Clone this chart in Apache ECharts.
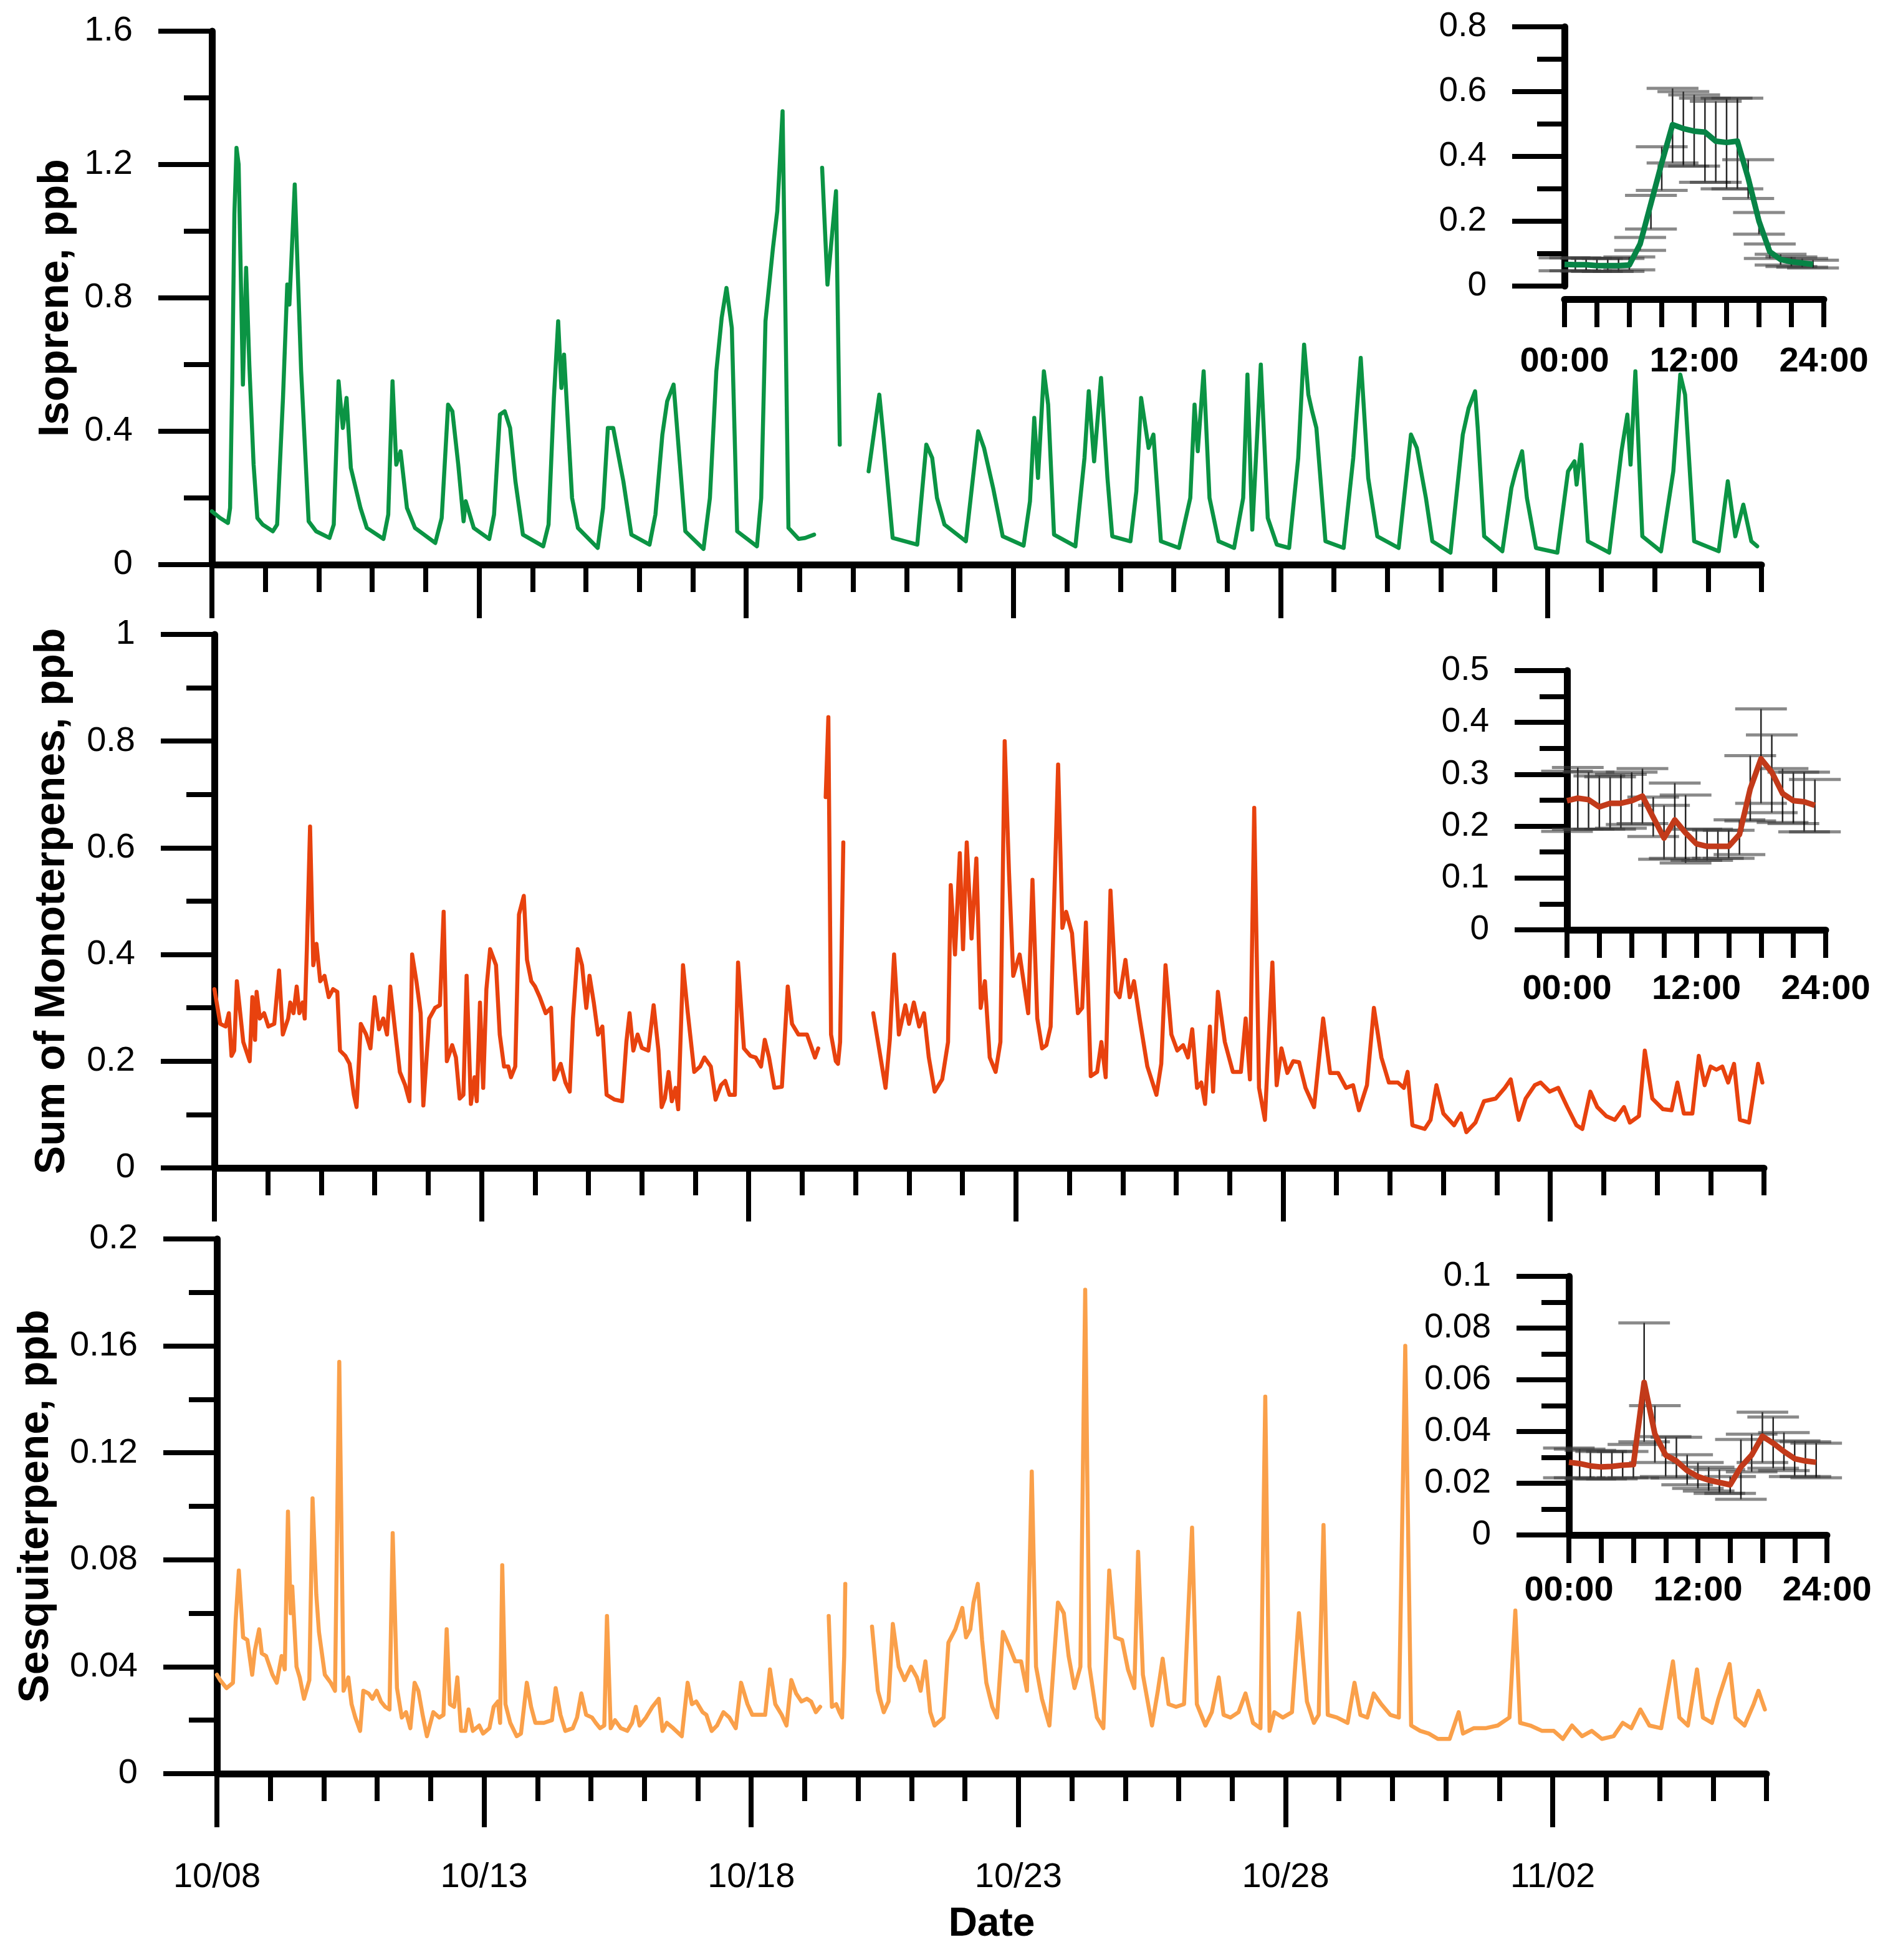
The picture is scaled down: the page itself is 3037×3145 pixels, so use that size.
<!DOCTYPE html>
<html>
<head>
<meta charset="utf-8">
<script src="https://cdn.jsdelivr.net/npm/echarts@6/dist/echarts.min.js"></script>
<style>
  html, body { margin: 0; padding: 0; background: #fff; }
  #chart { width: 3037px; height: 3145px; }
</style>
</head>
<body>
<div id="chart"></div>
<script>
// days after 10/08 00:00, value in ppb (null = gap in record)
const isoprene = [
  [0,0.16],[0.15,0.14],[0.3,0.125],[0.34,0.17],[0.38,0.55],[0.42,1.05],[0.46,1.25],[0.5,1.2],[0.58,0.54],[0.64,0.89],[0.7,0.6],[0.78,0.3],[0.85,0.14],[0.95,0.12],
  [1.14,0.10],[1.22,0.12],[1.33,0.50],[1.41,0.84],[1.45,0.78],[1.55,1.14],[1.67,0.58],[1.81,0.13],[1.95,0.10],
  [2.2,0.08],[2.28,0.12],[2.37,0.55],[2.45,0.41],[2.52,0.50],[2.6,0.29],[2.78,0.17],[2.9,0.11],
  [3.21,0.077],[3.3,0.15],[3.38,0.55],[3.45,0.30],[3.53,0.34],[3.65,0.17],[3.8,0.11],
  [4.18,0.065],[4.3,0.14],[4.42,0.48],[4.5,0.46],[4.61,0.30],[4.71,0.13],[4.75,0.19],[4.9,0.11],
  [5.19,0.077],[5.28,0.15],[5.39,0.45],[5.48,0.46],[5.58,0.41],[5.68,0.25],[5.82,0.09],
  [6.2,0.055],[6.3,0.12],[6.4,0.5],[6.48,0.73],[6.54,0.53],[6.59,0.63],[6.74,0.20],[6.85,0.11],
  [7.22,0.05],[7.32,0.17],[7.41,0.41],[7.51,0.41],[7.70,0.25],[7.85,0.09],
  [8.19,0.06],[8.3,0.15],[8.43,0.39],[8.52,0.49],[8.64,0.54],[8.76,0.30],[8.86,0.10],
  [9.2,0.047],[9.32,0.2],[9.44,0.58],[9.54,0.74],[9.63,0.83],[9.73,0.71],[9.83,0.10],
  [10.2,0.055],[10.28,0.2],[10.36,0.73],[10.5,0.95],[10.58,1.06],[10.68,1.36],[10.79,0.11],[10.98,0.077],[11.1,0.08],[11.27,0.09],
  [11.33,null],[11.42,1.19],[11.52,0.84],[11.68,1.12],[11.75,0.36],[11.8,null],
  [12.29,0.28],[12.49,0.51],[12.57,0.38],[12.74,0.08],[13.20,0.06],
  [13.37,0.36],[13.48,0.32],[13.57,0.20],[13.71,0.12],[14.11,0.07],
  [14.34,0.40],[14.45,0.35],[14.62,0.23],[14.80,0.085],[15.19,0.057],
  [15.31,0.19],[15.39,0.44],[15.46,0.26],[15.57,0.58],[15.65,0.48],[15.76,0.09],[16.16,0.055],
  [16.33,0.32],[16.41,0.52],[16.51,0.31],[16.64,0.56],[16.76,0.26],[16.85,0.085],[17.19,0.07],
  [17.30,0.22],[17.39,0.50],[17.53,0.35],[17.62,0.39],[17.76,0.07],[18.10,0.05],
  [18.31,0.20],[18.39,0.48],[18.45,0.34],[18.56,0.58],[18.67,0.20],[18.84,0.07],[19.13,0.05],
  [19.30,0.20],[19.38,0.57],[19.47,0.105],[19.63,0.60],[19.76,0.14],[19.93,0.06],[20.16,0.05],
  [20.33,0.32],[20.44,0.66],[20.52,0.51],[20.59,0.46],[20.67,0.41],[20.84,0.07],[21.18,0.05],
  [21.36,0.32],[21.50,0.62],[21.64,0.26],[21.81,0.085],[22.21,0.05],
  [22.44,0.39],[22.55,0.35],[22.72,0.20],[22.84,0.07],[23.18,0.036],
  [23.41,0.39],[23.52,0.47],[23.64,0.52],[23.69,0.41],[23.81,0.085],[24.15,0.04],
  [24.32,0.23],[24.40,0.28],[24.52,0.34],[24.61,0.20],[24.78,0.05],[25.18,0.036],
  [25.38,0.28],[25.50,0.31],[25.54,0.24],[25.63,0.36],[25.75,0.07],[26.15,0.036],
  [26.38,0.34],[26.49,0.45],[26.55,0.30],[26.64,0.58],[26.77,0.085],[27.12,0.04],
  [27.35,0.28],[27.48,0.57],[27.57,0.51],[27.74,0.07],[28.20,0.04],
  [28.37,0.25],[28.51,0.085],[28.66,0.18],[28.81,0.07],[28.92,0.055]
];

const monoterpenes = [
  [0,0.335],[0.11,0.27],[0.21,0.265],[0.27,0.29],[0.32,0.21],[0.37,0.22],[0.42,0.35],[0.54,0.236],[0.66,0.20],[0.71,0.32],[0.76,0.24],[0.79,0.33],[0.85,0.28],[0.93,0.29],
  [1.01,0.265],[1.12,0.27],[1.21,0.37],[1.28,0.25],[1.38,0.28],[1.42,0.31],[1.48,0.29],[1.54,0.34],[1.59,0.29],[1.65,0.31],[1.69,0.28],[1.73,0.41],[1.79,0.64],[1.85,0.38],[1.91,0.42],[1.98,0.35],
  [2.06,0.36],[2.14,0.32],[2.22,0.335],[2.3,0.33],[2.35,0.22],[2.45,0.21],[2.53,0.195],[2.61,0.137],[2.66,0.114],[2.74,0.27],[2.84,0.25],[2.92,0.224],
  [3.0,0.32],[3.08,0.26],[3.16,0.28],[3.23,0.25],[3.29,0.34],[3.39,0.25],[3.47,0.18],[3.57,0.155],[3.65,0.125],[3.70,0.40],[3.78,0.35],[3.86,0.29],[3.91,0.117],
  [4.02,0.28],[4.13,0.30],[4.22,0.305],[4.29,0.48],[4.35,0.20],[4.45,0.23],[4.52,0.207],[4.59,0.13],[4.66,0.137],[4.72,0.36],[4.80,0.12],[4.87,0.17],[4.91,0.125],[4.97,0.31],
  [5.03,0.15],[5.09,0.335],[5.16,0.41],[5.27,0.38],[5.34,0.25],[5.42,0.19],[5.5,0.19],[5.55,0.17],[5.63,0.19],[5.70,0.475],[5.79,0.51],[5.85,0.39],[5.93,0.35],
  [6.0,0.34],[6.09,0.32],[6.2,0.29],[6.3,0.30],[6.36,0.166],[6.48,0.195],[6.57,0.16],[6.65,0.143],[6.71,0.28],[6.80,0.41],[6.88,0.38],[6.96,0.30],
  [7.02,0.36],[7.10,0.31],[7.18,0.25],[7.26,0.265],[7.34,0.137],[7.49,0.128],[7.63,0.125],[7.71,0.236],[7.77,0.29],[7.84,0.22],[7.92,0.25],
  [8.0,0.225],[8.12,0.22],[8.22,0.305],[8.31,0.22],[8.37,0.114],[8.43,0.13],[8.5,0.18],[8.56,0.125],[8.63,0.15],[8.68,0.11],[8.77,0.38],[8.86,0.29],[8.98,0.18],
  [9.09,0.19],[9.17,0.207],[9.29,0.19],[9.38,0.128],[9.48,0.155],[9.56,0.163],[9.64,0.137],[9.74,0.137],[9.80,0.385],[9.91,0.224],
  [10.03,0.21],[10.13,0.207],[10.23,0.19],[10.3,0.24],[10.38,0.207],[10.48,0.15],[10.62,0.152],[10.73,0.34],[10.81,0.27],[10.93,0.25],
  [11.09,0.25],[11.16,0.23],[11.24,0.207],[11.30,0.224],
  [11.35,null],[11.44,0.695],[11.49,0.845],[11.54,0.25],[11.63,0.20],[11.67,0.195],[11.71,0.236],[11.77,0.61],[11.8,null],
  [12.33,0.29],[12.56,0.15],[12.64,0.24],[12.72,0.40],[12.81,0.25],[12.93,0.305],
  [13.0,0.27],[13.09,0.31],[13.19,0.265],[13.28,0.29],[13.37,0.207],[13.48,0.143],[13.62,0.166],[13.73,0.236],[13.78,0.53],[13.86,0.40],[13.95,0.59],
  [14.01,0.41],[14.08,0.61],[14.17,0.43],[14.26,0.58],[14.34,0.30],[14.42,0.35],[14.51,0.207],[14.62,0.18],[14.71,0.236],[14.79,0.80],[14.87,0.556],[14.95,0.36],
  [15.07,0.40],[15.23,0.29],[15.31,0.54],[15.4,0.28],[15.49,0.224],[15.57,0.23],[15.65,0.265],[15.71,0.48],[15.79,0.756],[15.87,0.45],[15.94,0.48],
  [16.05,0.44],[16.16,0.29],[16.24,0.30],[16.31,0.46],[16.40,0.172],[16.52,0.18],[16.60,0.236],[16.68,0.17],[16.77,0.52],[16.87,0.33],[16.94,0.32],
  [17.05,0.39],[17.13,0.32],[17.21,0.35],[17.32,0.277],[17.46,0.19],[17.63,0.137],[17.72,0.195],[17.8,0.38],[17.91,0.25],
  [18.02,0.22],[18.13,0.23],[18.22,0.207],[18.3,0.26],[18.39,0.15],[18.47,0.16],[18.54,0.12],[18.63,0.265],[18.69,0.143],[18.78,0.33],[18.91,0.236],
  [19.06,0.18],[19.21,0.18],[19.3,0.28],[19.38,0.166],[19.46,0.675],[19.55,0.15],[19.66,0.09],[19.8,0.385],[19.88,0.155],[19.97,0.224],
  [20.08,0.178],[20.19,0.20],[20.3,0.198],[20.42,0.15],[20.58,0.114],[20.75,0.28],[20.88,0.178],
  [21.03,0.178],[21.18,0.15],[21.31,0.155],[21.42,0.108],[21.57,0.155],[21.70,0.30],[21.84,0.207],[21.98,0.16],
  [22.15,0.16],[22.26,0.15],[22.33,0.18],[22.42,0.08],[22.65,0.073],[22.76,0.09],[22.87,0.155],
  [23.0,0.102],[23.2,0.08],[23.33,0.102],[23.43,0.067],[23.6,0.085],[23.76,0.125],[23.98,0.13],
  [24.15,0.15],[24.26,0.166],[24.41,0.09],[24.54,0.13],[24.71,0.155],[24.82,0.16],[24.99,0.143],
  [25.15,0.15],[25.32,0.114],[25.49,0.08],[25.6,0.073],[25.75,0.143],[25.88,0.114],
  [26.05,0.097],[26.21,0.09],[26.38,0.114],[26.49,0.085],[26.66,0.097],[26.77,0.22],[26.91,0.13],
  [27.11,0.11],[27.27,0.108],[27.38,0.16],[27.5,0.102],[27.66,0.102],[27.78,0.21],[27.89,0.155],
  [28.0,0.19],[28.11,0.184],[28.22,0.19],[28.33,0.16],[28.44,0.195],[28.55,0.09],[28.72,0.085],[28.89,0.195],[28.97,0.16]
];

const sesquiterpene = [
  [0,0.037],[0.06,0.035],[0.18,0.032],[0.30,0.034],[0.35,0.057],[0.41,0.076],[0.49,0.051],[0.57,0.050],[0.66,0.037],[0.71,0.046],[0.79,0.054],[0.84,0.045],[0.92,0.044],
  [1.04,0.037],[1.12,0.034],[1.21,0.044],[1.27,0.039],[1.33,0.098],[1.38,0.060],[1.41,0.070],[1.49,0.040],[1.55,0.036],[1.63,0.028],[1.73,0.035],[1.79,0.103],[1.86,0.067],[1.91,0.053],
  [2.02,0.037],[2.13,0.034],[2.21,0.031],[2.29,0.154],[2.37,0.031],[2.46,0.036],[2.52,0.026],[2.59,0.021],[2.68,0.016],[2.74,0.031],[2.84,0.030],[2.91,0.028],[2.99,0.031],
  [3.07,0.027],[3.15,0.025],[3.23,0.024],[3.29,0.090],[3.37,0.032],[3.46,0.021],[3.54,0.023],[3.62,0.017],[3.70,0.034],[3.77,0.031],[3.85,0.022],[3.93,0.014],
  [4.05,0.023],[4.16,0.021],[4.24,0.022],[4.30,0.054],[4.36,0.026],[4.44,0.025],[4.5,0.036],[4.57,0.016],[4.65,0.016],[4.71,0.024],[4.79,0.016],[4.91,0.018],[4.98,0.015],
  [5.10,0.017],[5.18,0.025],[5.26,0.027],[5.30,0.019],[5.34,0.078],[5.40,0.026],[5.49,0.019],[5.61,0.014],[5.69,0.015],[5.80,0.034],[5.88,0.025],[5.96,0.019],
  [6.12,0.019],[6.27,0.020],[6.34,0.032],[6.43,0.022],[6.52,0.016],[6.66,0.017],[6.74,0.021],[6.82,0.030],[6.91,0.022],
  [7.02,0.021],[7.09,0.019],[7.17,0.017],[7.25,0.018],[7.30,0.059],[7.37,0.017],[7.45,0.020],[7.56,0.017],[7.68,0.016],[7.77,0.019],[7.84,0.025],[7.91,0.018],
  [8.03,0.021],[8.15,0.025],[8.27,0.028],[8.34,0.016],[8.42,0.019],[8.54,0.017],[8.70,0.014],[8.81,0.034],[8.89,0.026],[8.97,0.027],
  [9.09,0.023],[9.16,0.022],[9.26,0.016],[9.36,0.018],[9.48,0.023],[9.59,0.021],[9.71,0.017],[9.81,0.034],[9.93,0.026],
  [10.02,0.022],[10.26,0.022],[10.35,0.039],[10.45,0.026],[10.57,0.022],[10.66,0.018],[10.75,0.035],[10.84,0.030],[10.94,0.027],
  [11.04,0.028],[11.12,0.027],[11.21,0.023],[11.29,0.025],
  [11.35,null],[11.45,0.059],[11.51,0.025],[11.59,0.026],[11.65,0.023],[11.70,0.021],[11.74,0.044],[11.76,0.071],[11.82,null],
  [12.26,0.055],[12.37,0.031],[12.48,0.023],[12.57,0.027],[12.65,0.056],[12.76,0.040],[12.87,0.035],[12.99,0.040],
  [13.1,0.036],[13.17,0.031],[13.26,0.042],[13.35,0.023],[13.43,0.018],[13.60,0.021],[13.69,0.049],[13.82,0.054],[13.95,0.062],
  [14.02,0.051],[14.10,0.054],[14.16,0.064],[14.24,0.071],[14.32,0.050],[14.40,0.034],[14.51,0.025],[14.60,0.021],[14.71,0.053],[14.82,0.048],[14.94,0.042],
  [15.05,0.042],[15.16,0.031],[15.25,0.113],[15.33,0.040],[15.44,0.028],[15.58,0.018],[15.74,0.064],[15.85,0.060],[15.94,0.044],
  [16.05,0.032],[16.16,0.040],[16.25,0.181],[16.33,0.040],[16.47,0.021],[16.59,0.017],[16.70,0.076],[16.81,0.051],[16.94,0.050],
  [17.05,0.039],[17.17,0.032],[17.24,0.083],[17.33,0.037],[17.50,0.018],[17.61,0.031],[17.70,0.043],[17.81,0.026],[17.95,0.025],
  [18.10,0.026],[18.25,0.092],[18.34,0.026],[18.50,0.018],[18.62,0.023],[18.75,0.036],[18.84,0.022],[18.97,0.021],
  [19.12,0.023],[19.25,0.030],[19.39,0.019],[19.53,0.017],[19.62,0.141],[19.70,0.016],[19.79,0.023],[19.95,0.021],
  [20.12,0.023],[20.25,0.060],[20.40,0.027],[20.53,0.019],[20.62,0.022],[20.71,0.093],[20.79,0.022],[20.96,0.021],
  [21.16,0.019],[21.29,0.034],[21.40,0.022],[21.53,0.021],[21.65,0.030],[21.79,0.026],[21.96,0.022],
  [22.12,0.021],[22.24,0.160],[22.35,0.018],[22.52,0.016],[22.68,0.015],[22.85,0.013],
  [23.07,0.013],[23.24,0.023],[23.32,0.015],[23.52,0.017],[23.74,0.017],[23.97,0.018],
  [24.19,0.021],[24.30,0.061],[24.39,0.019],[24.58,0.018],[24.80,0.016],
  [25.02,0.016],[25.19,0.013],[25.36,0.018],[25.55,0.014],[25.73,0.016],[25.92,0.013],
  [26.14,0.014],[26.31,0.019],[26.47,0.017],[26.64,0.024],[26.81,0.018],
  [27.03,0.017],[27.25,0.042],[27.37,0.021],[27.53,0.018],[27.70,0.039],[27.81,0.021],[27.98,0.019],
  [28.1,0.028],[28.31,0.041],[28.42,0.021],[28.59,0.018],[28.76,0.026],[28.85,0.031],[28.97,0.024]
];

// diurnal insets: hour of day, mean, upper and lower bar ends
const hours = [0,1,2,3,4,5,6,7,8,9,10,11,12,13,14,15,16,17,18,19,20,21,22,23];
const isopreneDiurnal = [0.067,0.066,0.066,0.063,0.063,0.063,0.065,0.13,0.255,0.38,0.498,0.486,0.478,0.475,0.447,0.443,0.447,0.333,0.2,0.106,0.082,0.075,0.071,0.067];
const isopreneHigh    = [0.087,0.087,0.086,0.085,0.085,0.085,0.09,0.15,0.28,0.43,0.61,0.60,0.59,0.58,0.57,0.58,0.58,0.39,0.227,0.13,0.098,0.09,0.085,0.08];
const isopreneLow     = [0.047,0.047,0.046,0.045,0.045,0.045,0.05,0.11,0.176,0.295,0.38,0.37,0.37,0.32,0.32,0.30,0.30,0.27,0.16,0.085,0.065,0.06,0.058,0.056];
const monoDiurnal = [0.249,0.254,0.251,0.237,0.244,0.244,0.249,0.258,0.217,0.177,0.212,0.187,0.166,0.161,0.161,0.161,0.184,0.272,0.33,0.304,0.263,0.249,0.247,0.24];
const monoHigh    = [0.306,0.313,0.304,0.297,0.295,0.30,0.304,0.311,0.256,0.24,0.283,0.26,0.194,0.194,0.192,0.192,0.212,0.336,0.426,0.376,0.311,0.304,0.304,0.29];
const monoLow     = [0.19,0.194,0.194,0.194,0.194,0.196,0.203,0.205,0.18,0.136,0.138,0.129,0.134,0.134,0.138,0.138,0.145,0.21,0.244,0.226,0.207,0.205,0.189,0.189];
const sesqDiurnal = [0.0281,0.0276,0.0267,0.0263,0.0265,0.027,0.0272,0.059,0.039,0.0309,0.0286,0.0249,0.0226,0.0212,0.0203,0.0194,0.0263,0.0309,0.0382,0.0355,0.0323,0.0295,0.0286,0.0281];
const sesqHigh    = [0.0336,0.0332,0.0327,0.0323,0.0323,0.0323,0.035,0.082,0.050,0.038,0.0378,0.031,0.028,0.0262,0.0253,0.0226,0.0369,0.039,0.0475,0.0456,0.0396,0.0364,0.036,0.0355];
const sesqLow     = [0.0221,0.0221,0.0217,0.0217,0.0217,0.0221,0.0221,0.036,0.028,0.0226,0.022,0.0194,0.018,0.017,0.0161,0.0161,0.0138,0.0244,0.028,0.0258,0.0249,0.0226,0.0226,0.0221];

const dateTicks = [0, 5, 10, 15, 20, 25];
const FONT = '"Liberation Sans", Arial, sans-serif';

function dayLabel(v) {
  const t = new Date(Date.UTC(2020, 9, 8) + v * 86400000);
  return String(t.getUTCMonth() + 1).padStart(2, '0') + '/' + String(t.getUTCDate()).padStart(2, '0');
}

const panels = [
  { grid: { left: 340, top: 50, width: 2486, height: 856 }, max: 1.6, major: 0.4, minor: 0.2,
    name: 'Isoprene, ppb', nameGap: 208, data: isoprene, color: '#0B9444' },
  { grid: { left: 344, top: 1018, width: 2486, height: 856 }, max: 1, major: 0.2, minor: 0.1,
    name: 'Sum of Monoterpenes, ppb', nameGap: 226, data: monoterpenes, color: '#E8420E' },
  { grid: { left: 348, top: 1988, width: 2486, height: 858 }, max: 0.2, major: 0.04, minor: 0.02,
    name: 'Sesquiterpene, ppb', nameGap: 256, data: sesquiterpene, color: '#FAA04A' }
];

const insets = [
  { grid: { left: 2510, top: 43, width: 416, height: 416 }, max: 0.8, major: 0.2, minor: 0.1, xOffset: 21, labelMargin: 73,
    mean: isopreneDiurnal, high: isopreneHigh, low: isopreneLow, color: '#078446' },
  { grid: { left: 2514, top: 1076, width: 415, height: 416 }, max: 0.5, major: 0.1, minor: 0.05, xOffset: 0, labelMargin: 68,
    mean: monoDiurnal, high: monoHigh, low: monoLow, color: '#C23A1A' },
  { grid: { left: 2517, top: 2048, width: 414, height: 415 }, max: 0.1, major: 0.02, minor: 0.01, xOffset: 0, labelMargin: 62,
    mean: sesqDiurnal, high: sesqHigh, low: sesqLow, color: '#C23A1A' }
];

const black = '#000';
const AXIS_W = 11, TICK_W = 8;
const grids = [], xAxes = [], yAxes = [], series = [];

panels.forEach((p, i) => {
  grids.push(p.grid);
  const g = grids.length - 1;
  const last = i === panels.length - 1;
  xAxes.push({
    gridIndex: g, type: 'value', min: 0, max: 29, interval: 5, position: 'bottom',
    axisLine: { onZero: false, lineStyle: { color: black, width: AXIS_W } },
    axisTick: { customValues: dateTicks, length: 86, lineStyle: { color: black, width: TICK_W } },
    axisLabel: { show: last, customValues: dateTicks, formatter: dayLabel, margin: 139,
                 fontSize: 56, color: black, fontFamily: FONT },
    splitLine: { show: false },
    name: last ? 'Date' : '', nameLocation: 'middle', nameGap: 210,
    nameTextStyle: { fontSize: 64, fontWeight: 'bold', color: black, fontFamily: FONT }
  });
  const xi = xAxes.length - 1;
  xAxes.push({
    gridIndex: g, type: 'value', min: 0, max: 29, interval: 1, position: 'bottom',
    axisLine: { show: false, onZero: false },
    axisTick: { length: 44, lineStyle: { color: black, width: TICK_W } },
    axisLabel: { show: false }, splitLine: { show: false }
  });
  yAxes.push({
    gridIndex: g, type: 'value', min: 0, max: p.max, interval: p.major, position: 'left',
    axisLine: { show: true, onZero: false, lineStyle: { color: black, width: AXIS_W } },
    axisTick: { show: true, length: 86, lineStyle: { color: black, width: TICK_W } },
    axisLabel: { margin: 127, fontSize: 56, color: black, fontFamily: FONT },
    splitLine: { show: false },
    name: p.name, nameLocation: 'middle', nameGap: p.nameGap,
    nameTextStyle: { fontSize: 68, fontWeight: 'bold', color: black, fontFamily: FONT }
  });
  const yi = yAxes.length - 1;
  yAxes.push({
    gridIndex: g, type: 'value', min: 0, max: p.max, interval: p.minor, position: 'left',
    axisLine: { show: false, onZero: false },
    axisTick: { show: true, length: 45, lineStyle: { color: black, width: TICK_W } },
    axisLabel: { show: false }, splitLine: { show: false }
  });
  series.push({
    type: 'line', xAxisIndex: xi, yAxisIndex: yi, data: p.data,
    symbol: 'none', connectNulls: false, z: 3,
    lineStyle: { color: p.color, width: 6.5, join: 'round', cap: 'round' }, itemStyle: { color: p.color }
  });
});

function hourLabel(v) {
  return v % 12 === 0 ? String(v).padStart(2, '0') + ':00' : '';
}

// error bar: thin vertical line, wide grey caps (2.4 h each side)
function renderErrorBar(params, api) {
  const h = api.value(0);
  const bot = api.coord([h, api.value(1)]);
  const top = api.coord([h, api.value(2)]);
  const half = api.size([2.4, 0])[0];
  const cap = { stroke: 'rgba(60,60,60,0.6)', lineWidth: 5 };
  return {
    type: 'group',
    children: [
      { type: 'line', shape: { x1: top[0], y1: top[1], x2: bot[0], y2: bot[1] },
        style: { stroke: 'rgba(0,0,0,0.85)', lineWidth: 2.5 } },
      { type: 'line', shape: { x1: top[0] - half, y1: top[1], x2: top[0] + half, y2: top[1] }, style: cap },
      { type: 'line', shape: { x1: bot[0] - half, y1: bot[1], x2: bot[0] + half, y2: bot[1] }, style: cap }
    ]
  };
}

insets.forEach(s => {
  grids.push(s.grid);
  const g = grids.length - 1;
  xAxes.push({
    gridIndex: g, type: 'value', min: 0, max: 24, interval: 3, position: 'bottom', offset: s.xOffset,
    axisLine: { onZero: false, lineStyle: { color: black, width: AXIS_W } },
    axisTick: { length: 45, lineStyle: { color: black, width: TICK_W } },
    axisLabel: { formatter: hourLabel, margin: s.labelMargin, fontSize: 56, fontWeight: 'bold',
                 color: black, fontFamily: FONT, showMinLabel: true, showMaxLabel: true },
    splitLine: { show: false }
  });
  const xi = xAxes.length - 1;
  yAxes.push({
    gridIndex: g, type: 'value', min: 0, max: s.max, interval: s.major, position: 'left',
    axisLine: { show: true, onZero: false, lineStyle: { color: black, width: AXIS_W } },
    axisTick: { show: true, length: 84, lineStyle: { color: black, width: TICK_W } },
    axisLabel: { margin: 125, fontSize: 55, color: black, fontFamily: FONT },
    splitLine: { show: false }
  });
  const yi = yAxes.length - 1;
  yAxes.push({
    gridIndex: g, type: 'value', min: 0, max: s.max, interval: s.minor, position: 'left',
    axisLine: { show: false, onZero: false },
    axisTick: { show: true, length: 44, lineStyle: { color: black, width: TICK_W } },
    axisLabel: { show: false }, splitLine: { show: false }
  });
  series.push({
    type: 'custom', xAxisIndex: xi, yAxisIndex: yi, z: 2, clip: false,
    renderItem: renderErrorBar,
    encode: { x: 0, y: [1, 2] },
    data: hours.map((h, k) => [h, s.low[k], s.high[k]])
  });
  series.push({
    type: 'line', xAxisIndex: xi, yAxisIndex: yi, z: 4, symbol: 'none',
    data: hours.map((h, k) => [h, s.mean[k]]),
    lineStyle: { color: s.color, width: 9, join: 'round' }, itemStyle: { color: s.color }
  });
});

const chart = echarts.init(document.getElementById('chart'), null, { renderer: 'canvas' });
chart.setOption({
  backgroundColor: '#ffffff',
  animation: false,
  textStyle: { fontFamily: FONT },
  grid: grids,
  xAxis: xAxes,
  yAxis: yAxes,
  series: series
});
</script>
</body>
</html>
